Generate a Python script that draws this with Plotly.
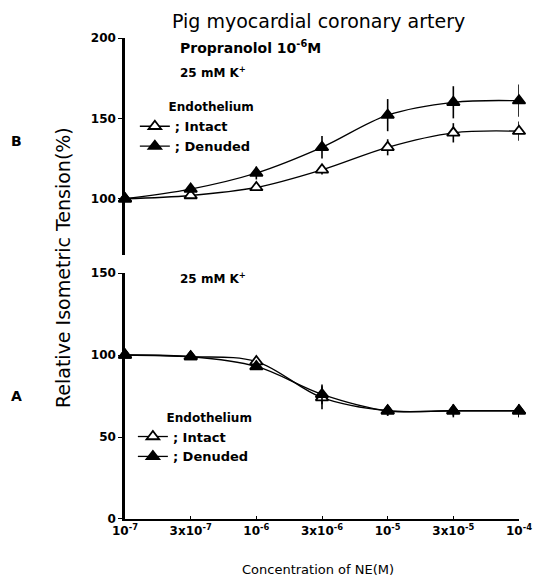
import plotly.graph_objects as go

# ---- data ----
concentrations = ["10<sup>-7</sup>", "3x10<sup>-7</sup>", "10<sup>-6</sup>", "3x10<sup>-6</sup>",
                  "10<sup>-5</sup>", "3x10<sup>-5</sup>", "10<sup>-4</sup>"]

# Panel B (Propranolol 1e-6 M, 25 mM K+)
b_intact = [100, 102, 107, 118, 132, 141, 142]
b_intact_err = [0, 2, 2, 3, 5, 6, 6]
b_denuded = [100, 106, 116, 132, 152, 160, 161]
b_denuded_err = [0, 2, 4, 7, 10, 10, 10]

# Panel A (25 mM K+)
a_intact = [100, 99, 96, 74, 66, 66, 66]
a_intact_err = [0, 1, 2, 7, 3, 4, 4]
a_denuded = [100, 99, 93, 76, 66, 66, 66]
a_denuded_err = [0, 1, 2, 6, 3, 3, 4]

FONT = "DejaVu Sans"
BLACK = "#000000"

fig = go.Figure()

def add(y, err, filled, yaxis, legend, name):
    fig.add_trace(go.Scatter(
        x=concentrations, y=y, yaxis=yaxis, name=name, legend=legend,
        mode="lines+markers", line=dict(color=BLACK, width=1.3, shape="spline"),
        marker=dict(symbol="triangle-up", size=11,
                    color=BLACK if filled else "white",
                    line=dict(color=BLACK, width=1.8)),
        error_y=dict(type="data", array=err, visible=True, color=BLACK,
                     thickness=1.6, width=0),
        cliponaxis=False,
    ))

add(b_intact, b_intact_err, False, "y2", "legend", "; Intact")
add(b_denuded, b_denuded_err, True, "y2", "legend", "; Denuded")
add(a_intact, a_intact_err, False, "y", "legend2", "; Intact")
add(a_denuded, a_denuded_err, True, "y", "legend2", "; Denuded")

tickfont = dict(family=FONT, size=12, color=BLACK, weight="bold")
legfont = dict(family=FONT, size=13, color=BLACK, weight="bold")
legtitlefont = dict(family=FONT, size=12, color=BLACK, weight="bold")

fig.update_layout(
    width=536, height=571,
    margin=dict(l=117, r=16, t=30, b=60),
    paper_bgcolor="white", plot_bgcolor="white",
    font=dict(family=FONT, color=BLACK),
    xaxis=dict(type="category", range=[0, 6], anchor="y",
               showline=True, linecolor=BLACK, linewidth=2,
               ticks="inside", ticklen=3, tickcolor=BLACK,
               showgrid=False, zeroline=False, tickfont=tickfont),
    yaxis=dict(domain=[0, 0.5114], range=[0, 150], tickvals=[0, 50, 100, 150],
               showline=True, linecolor=BLACK, linewidth=2.5,
               ticks="outside", ticklen=4, tickcolor=BLACK,
               showgrid=False, zeroline=False, tickfont=tickfont),
    yaxis2=dict(domain=[0.5489, 1], range=[65, 200], tickvals=[100, 150, 200],
                anchor="x", showline=True, linecolor=BLACK, linewidth=2.5,
                ticks="outside", ticklen=4, tickcolor=BLACK,
                showgrid=False, zeroline=False, tickfont=tickfont),
    legend=dict(x=0.025, y=0.88, xanchor="left", yanchor="top",
                bgcolor="rgba(0,0,0,0)", tracegroupgap=0, itemwidth=30,
                font=legfont,
                title=dict(text="Endothelium", side="top right", font=legtitlefont)),
    legend2=dict(x=0.02, y=0.235, xanchor="left", yanchor="top",
                 bgcolor="rgba(0,0,0,0)", tracegroupgap=0, itemwidth=30,
                 font=legfont,
                 title=dict(text="Endothelium", side="top right", font=legtitlefont)),
    showlegend=True,
)

ann = [
    dict(text="Propranolol 10<sup>-6</sup>M", x=0.134, y=0.981, size=14, anchor="left"),
    dict(text="25 mM K<sup>+</sup>", x=0.134, y=0.929, size=12, anchor="left"),
    dict(text="25 mM K<sup>+</sup>", x=0.134, y=0.502, size=12, anchor="left"),
    dict(text="B", x=-0.276, y=0.786, size=14),
    dict(text="A", x=-0.276, y=0.256, size=14),
    dict(text="Concentration of NE(M)", x=0.49, y=-0.106, size=13, w="normal"),
]
for a in ann:
    fig.add_annotation(text=a["text"], x=a["x"], y=a["y"], xref="paper", yref="paper",
                       xanchor=a.get("anchor", "center"), yanchor="middle", showarrow=False,
                       font=dict(family=FONT, size=a["size"], color=BLACK, weight=a.get("w", "bold")))

fig.add_annotation(text="Pig myocardial coronary artery", x=0.49, y=1.062, xref="paper", yref="paper",
                   xanchor="center", yanchor="top", showarrow=False,
                   font=dict(family=FONT, size=19, color=BLACK))

fig.add_annotation(text="Relative Isometric Tension(%)", x=-0.157, y=0.522, xref="paper", yref="paper",
                   textangle=-90, showarrow=False, xanchor="center", yanchor="middle",
                   font=dict(family=FONT, size=19, color=BLACK))

fig.write_html("out.html")
